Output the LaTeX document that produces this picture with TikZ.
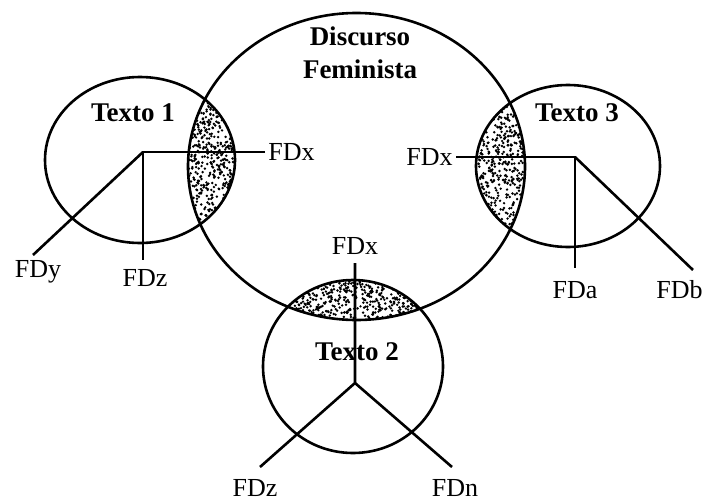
\documentclass[tikz,border=0pt]{standalone}
\usepackage{fontspec}
\setmainfont{Liberation Serif}
\begin{document}
\begin{tikzpicture}[x=0.5pt, y=-0.5pt, line width=1.3pt,
  lbl/.style={font=\fontsize{13}{16}\selectfont, inner sep=1pt},
  titel/.style={font=\fontsize{13.5}{16.5}\selectfont\bfseries, inner sep=1pt, align=center}]
  \useasboundingbox (0,0) rectangle (708,504);

  % Centres of the circles
  \coordinate (D) at (356.5,166.5);
  \coordinate (T1) at (140,160);
  \coordinate (T3) at (568,166);
  \coordinate (T2) at (353,366.5);

  % Shaded overlaps
  \pgfmathsetseed{11}
  \begin{scope}
    \clip (D) ellipse [x radius=168.5, y radius=153.5];
    \clip (T1) ellipse [x radius=95, y radius=83];
    \foreach \i in {1,...,560}
      \fill ({186+50*rnd},{92+138*rnd}) circle (1.35);
  \end{scope}
  \begin{scope}
    \clip (D) ellipse [x radius=168.5, y radius=153.5];
    \clip (T3) ellipse [x radius=92, y radius=81];
    \foreach \i in {1,...,560}
      \fill ({474+53*rnd},{90+142*rnd}) circle (1.35);
  \end{scope}
  \begin{scope}
    \clip (D) ellipse [x radius=168.5, y radius=153.5];
    \clip (T2) ellipse [x radius=90, y radius=86.5];
    \foreach \i in {1,...,600}
      \fill ({280+150*rnd},{278+44*rnd}) circle (1.35);
  \end{scope}

  % Circles
  \draw (D) ellipse [x radius=168.5, y radius=153.5];
  \draw (T1) ellipse [x radius=95, y radius=83];
  \draw (T3) ellipse [x radius=92, y radius=81];
  \draw (T2) ellipse [x radius=90, y radius=86.5];

  % Titles
  \node[titel] (df) at (360,53) {Discurso\\Feminista};
  \node[titel] (t1) at (133,113) {Texto 1};
  \node[titel] (t3) at (577,113) {Texto 3};
  \node[titel] (t2) at (357,352) {Texto 2};

  % Texto 1
  \coordinate (J1) at (143,152);
  \node[lbl, anchor=west] (x1) at (265,152) {FDx};
  \node[lbl] (y1) at (38,272) {FDy};
  \node[lbl] (z1) at (145,278) {FDz};
  \draw (x1.west) -- (J1) -- (143,260);
  \draw (J1) -- (33,255);

  % Texto 3
  \coordinate (J3) at (575,157);
  \node[lbl, anchor=east] (x3) at (456,157) {FDx};
  \node[lbl] (a3) at (575,290) {FDa};
  \node[lbl, anchor=east] (b3) at (706,290) {FDb};
  \draw (x3.east) -- (J3) -- (575,268);
  \draw (J3) -- (693,270);

  % Texto 2
  \coordinate (J2) at (355,383);
  \node[lbl] (x2) at (355,246) {FDx};
  \node[lbl] (z2) at (255,488) {FDz};
  \node[lbl] (n2) at (455,488) {FDn};
  \draw (355,263) -- (J2) -- (260,467);
  \draw (J2) -- (452,467);
\end{tikzpicture}
\end{document}
